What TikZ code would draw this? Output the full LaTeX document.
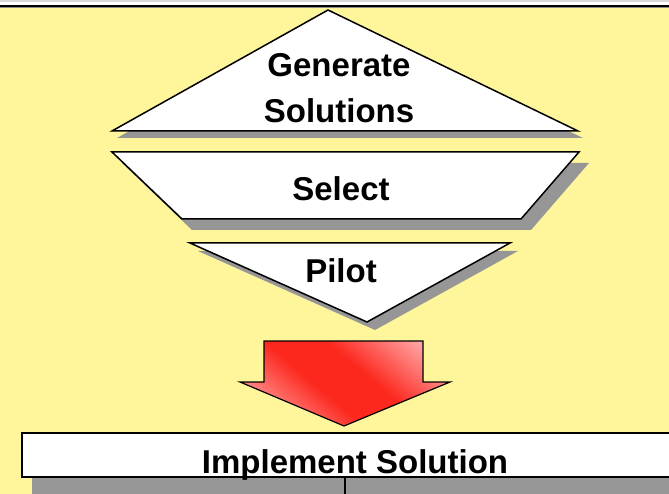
\documentclass[tikz,border=0pt]{standalone}
\usepackage{fontspec}
\setmainfont{Liberation Sans}
\definecolor{paper}{RGB}{255,246,155}
\definecolor{shade}{RGB}{150,150,150}
\definecolor{redmid}{RGB}{252,40,30}
\definecolor{redlight}{RGB}{255,165,165}
\pgfdeclareverticalshading{redband}{100bp}{
    color(0bp)=(redlight); color(22bp)=(redlight); color(43bp)=(redmid);
    color(57bp)=(redmid); color(78bp)=(redlight); color(100bp)=(redlight)}
\begin{document}
\begin{tikzpicture}[
        x = 1pt,
        y = -1pt,
        line width = 1.5pt,
        block/.style = {draw = black, fill = white},
        dropshade/.style = {fill = shade},
        tag/.style = {font = \fontsize{33}{46}\selectfont\bfseries, inner sep = 0pt, align = center}
    ]
        \useasboundingbox (0,0) rectangle (669,494);
        \fill[paper] (0,0) rectangle (669,494);
        \fill[white] (0,0) rectangle (669,5);
        \fill[black!15] (0,0) rectangle (669,2);
        \draw[line width = 2pt] (0,6)--(669,6);
        \draw[line width = 1pt, black!45] (0,7.5)--(669,7.5);
        % shadows
        \fill[dropshade] (333,17)--(583,138)--(117,138)--cycle;
        \fill[dropshade] (122,163)--(589,163)--(531,230)--(192,230)--cycle;
        \fill[dropshade] (198,251)--(518,251)--(375,330)--cycle;
        \fill[dropshade] (32,477) rectangle (700,500);
        % steps
        \draw[block] (328,10)--(578,131)--(112,131)--cycle;
        \draw[block] (112,152)--(579,152)--(521,219)--(182,219)--cycle;
        \draw[block] (190,243)--(510,243)--(367,322)--cycle;
        \node[tag] (gen) at (339,88) {Generate\\Solutions};
        \node[tag] (sel) at (341,188.5) {Select};
        \node[tag] (pil) at (341,270.5) {Pilot};
        % arrow
        \shadedraw[shading = redband, shading angle = -40, line width = 1.2pt]
            (264,341)--(423,341)--(423,382)--(450,382)--(344,426)--(240,382)--(264,382)--cycle;
        % result
        \node[block, minimum width = 666pt, minimum height = 44pt, inner sep = 0pt] (impl) at (355,455) {};
        \node[tag, anchor = base] (impltext) at (355,473) {Implement Solution};
        \coordinate (exit) at (345,494);
        \draw (impl.south -| exit)--(exit);
    \end{tikzpicture}
\end{document}
